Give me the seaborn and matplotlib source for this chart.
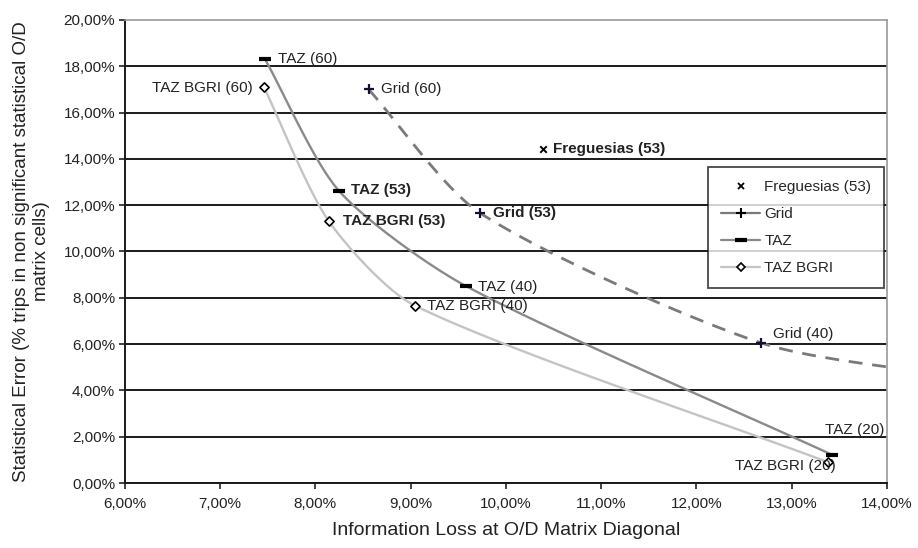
import numpy as np
import pandas as pd
import seaborn as sns
import matplotlib
matplotlib.use("Agg")
import matplotlib.pyplot as plt
from matplotlib.lines import Line2D
from matplotlib.ticker import FuncFormatter

# ---- data (percent) ----
taz_x = [7.47, 8.25, 9.58, 13.43]
taz_y = [18.32, 12.61, 8.51, 1.21]
taz_labels = ["TAZ (60)", "TAZ (53)", "TAZ (40)", "TAZ (20)"]

bgri_x = [7.46, 8.14, 9.05, 13.38]
bgri_y = [17.10, 11.32, 7.65, 0.90]
bgri_labels = ["TAZ BGRI (60)", "TAZ BGRI (53)", "TAZ BGRI (40)", "TAZ BGRI (20)"]

grid_x = [8.56, 9.73, 12.68, 15.00]
grid_y = [17.00, 11.66, 6.05, 4.45]
grid_labels = ["Grid (60)", "Grid (53)", "Grid (40)", "Grid (20)"]

freg_x = [10.39]
freg_y = [14.43]
freg_labels = ["Freguesias (53)"]

x_ticks = [6, 7, 8, 9, 10, 11, 12, 13, 14]
y_ticks = [0, 2, 4, 6, 8, 10, 12, 14, 16, 18, 20]

sns.set_theme(style="white")
plt.rcParams["font.family"] = ["Liberation Sans", "DejaVu Sans"]

fig = plt.figure(figsize=(9.18, 5.48), dpi=100)
ax = fig.add_axes([0.136, 0.1186, 0.830, 0.845])

SX, SY = 95.2, 23.15


def smooth(xs, ys, k=0.25, n=40):
    P = np.c_[np.asarray(xs) * SX, np.asarray(ys) * SY]
    m = len(P)
    D = []
    for i in range(m):
        a = P[max(i - 1, 0)]
        b = P[min(i + 1, m - 1)]
        d = b - a
        D.append(d / np.linalg.norm(d))
    out = []
    t = np.linspace(0, 1, n)[:, None]
    for i in range(m - 1):
        p1, p2 = P[i], P[i + 1]
        L = np.linalg.norm(p2 - p1)
        c1 = p1 + D[i] * L * k
        c2 = p2 - D[i + 1] * L * k
        seg = (1 - t) ** 3 * p1 + 3 * (1 - t) ** 2 * t * c1 + 3 * (1 - t) * t ** 2 * c2 + t ** 3 * p2
        out.append(seg if i == 0 else seg[1:])
    out = np.vstack(out)
    return out[:, 0] / SX, out[:, 1] / SY


# grid lines
for yv in y_ticks[:-1]:
    ax.axhline(yv, color="#1a1a1a", lw=1.4, zorder=1)

# smoothed lines
bx, by = smooth(bgri_x, bgri_y)
sns.lineplot(x=bx, y=by, sort=False, estimator=None, color="#c4c4c4", lw=1.7, ax=ax, zorder=2)
tx, ty = smooth(taz_x, taz_y)
sns.lineplot(x=tx, y=ty, sort=False, estimator=None, color="#8a8a8a", lw=1.7, ax=ax, zorder=2)
gx, gy = smooth(grid_x, grid_y)
sns.lineplot(x=gx, y=gy, sort=False, estimator=None, color="#7a7a7a", lw=2.0,
             linestyle=(0, (5, 3.5)), ax=ax, zorder=2)

# markers
sns.scatterplot(x=bgri_x, y=bgri_y, marker="D", s=22, facecolor="white",
                edgecolor="black", linewidth=1.2, ax=ax, zorder=4)
sns.scatterplot(x=taz_x, y=taz_y, marker="_", s=70, color="black", linewidth=3.0, ax=ax, zorder=4)
sns.scatterplot(x=grid_x, y=grid_y, marker="+", s=55, color="#111133", linewidth=1.6, ax=ax, zorder=4)
sns.scatterplot(x=freg_x, y=freg_y, marker="x", s=22, color="black", linewidth=1.4, ax=ax, zorder=4)

# annotations
fs = 11
def lab(x, y, s, dx, dy, ha="left", bold=False):
    ax.annotate(s, (x, y), xytext=(dx, dy), textcoords="offset pixels",
                ha=ha, va="center", fontsize=fs, color="#222222",
                fontweight="bold" if bold else "normal", zorder=5)

taz_off = [(13, 0, "left", False), (12, 1, "left", True), (12, -1, "left", False), (-7, 25, "left", False)]
for x, y, s, o in zip(taz_x, taz_y, taz_labels, taz_off):
    lab(x, y, s, o[0], o[1], o[2], o[3])
bgri_off = [(-11, -1, "right", False), (14, 0, "left", True), (12, 0, "left", False), (8, -4, "right", False)]
for x, y, s, o in zip(bgri_x, bgri_y, bgri_labels, bgri_off):
    lab(x, y, s, o[0], o[1], o[2], o[3])
grid_off = [(12, 0, "left", False), (13, 0, "left", True), (12, 9, "left", False)]
for x, y, s, o in zip(grid_x[:3], grid_y[:3], grid_labels[:3], grid_off):
    lab(x, y, s, o[0], o[1], o[2], o[3])
lab(freg_x[0], freg_y[0], freg_labels[0], 10, 0, "left", True)

# axes
ax.set_xlim(6, 14)
ax.set_ylim(0, 20)
ax.set_xticks(x_ticks)
ax.set_yticks(y_ticks)
fmt = FuncFormatter(lambda v, p: ("%.2f%%" % v).replace(".", ","))
ax.xaxis.set_major_formatter(fmt)
ax.yaxis.set_major_formatter(fmt)
ax.tick_params(axis="both", which="major", direction="out", length=4, width=1.2,
               colors="#222222", labelsize=11, bottom=True, left=True)
ax.tick_params(axis="x", pad=6)
ax.tick_params(axis="y", pad=3)

for side in ["left", "bottom"]:
    ax.spines[side].set_color("#1a1a1a")
    ax.spines[side].set_linewidth(1.4)
for side in ["top", "right"]:
    ax.spines[side].set_color("#9a9a9a")
    ax.spines[side].set_linewidth(1.2)
    ax.spines[side].set_visible(True)

ax.set_xlabel("Information Loss at O/D Matrix Diagonal", fontsize=14, color="#222222", labelpad=8)
ax.set_ylabel("Statistical Error (% trips in non significant statistical O/D\nmatrix cells)",
              fontsize=13.5, color="#222222", labelpad=10, linespacing=1.2)

# legend
handles = [
    Line2D([], [], ls="none", marker="x", color="black", ms=5, mew=1.3),
    Line2D([], [], color="#7a7a7a", lw=1.6, marker="+", mec="black", ms=7, mew=1.5),
    Line2D([], [], color="#8a8a8a", lw=1.6, marker="_", mec="black", ms=8, mew=3),
    Line2D([], [], color="#c4c4c4", lw=1.6, marker="D", mfc="white", mec="black", ms=4.5, mew=1.2),
]
names = ["Freguesias (53)", "Grid", "TAZ", "TAZ BGRI"]
leg = ax.legend(handles, names, loc="upper left", bbox_to_anchor=(0.765, 0.682),
                frameon=True, fancybox=False, fontsize=11, handlelength=2.6,
                labelspacing=0.85, borderpad=0.85, handletextpad=0.25, borderaxespad=0)
leg.get_frame().set_edgecolor("#1a1a1a")
leg.get_frame().set_linewidth(1.3)
leg.set_zorder(6)

fig.savefig("out.png", dpi=100)
